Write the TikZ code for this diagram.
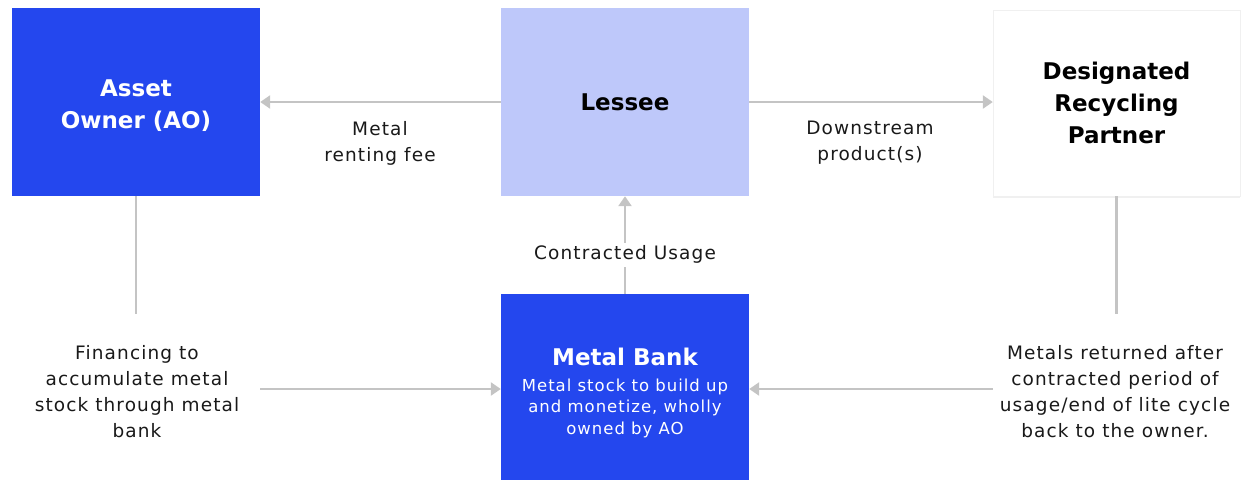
\documentclass[tikz,border=0pt]{standalone}
\usepackage{fontspec}
\setmainfont{DejaVu Sans}
\newfontfamily\notefont[LetterSpace=6]{DejaVu Sans}
\usetikzlibrary{positioning,arrows.meta,shadows}
\definecolor{bankblue}{RGB}{36,71,238}
\definecolor{lesseeblue}{RGB}{190,200,250}
\definecolor{flowgrey}{RGB}{196,196,196}

\tikzset{
  box/.style={rectangle, minimum width=248pt, minimum height=188pt, align=center,
    inner sep=0pt, font=\fontsize{23}{32}\selectfont\bfseries},
  bluebox/.style={box, fill=bankblue, text=white},
  flow/.style={draw=flowgrey, line width=2.5pt, -{Triangle[length=10pt,width=13pt]}},
  flowline/.style={draw=flowgrey, line width=2.5pt},
  note/.style={align=center, font=\notefont\fontsize{18.5}{26}\selectfont, text=black!90}
}
\newcommand{\banksub}{\notefont\fontsize{16.5}{22}\mdseries\selectfont}

\begin{document}
\begin{tikzpicture}[x=1pt,y=-1pt]
  \useasboundingbox (0,0) rectangle (1249,480);

  % Boxes
  \node[bluebox] (owner) at (136,102) {\\[-8pt]Asset\\Owner (AO)};
  \node[box, fill=lesseeblue] (lessee) at (625,102) {Lessee};
  \node[box, fill=white, minimum width=247pt, minimum height=186pt, draw=black!6,
    drop shadow={opacity=0.12, shadow xshift=0pt, shadow yshift=-2pt}] (partner) at (1116.5,103)
    {Designated\\Recycling\\Partner};
  \node[bluebox, minimum height=186pt] (bank) at (625,387)
    {\\[-2pt]Metal Bank\\[-6pt]\banksub Metal stock to build up\\[-11.5pt]\banksub and monetize, wholly\\[-9.5pt]\banksub owned by AO};

  % Labels
  \node[note] (fee) at (380,143) {Metal\\renting fee};
  \node[note] (product) at (870,143) {Downstream\\product(s)};
  \node[note] (finance) at (137,392) {Financing to\\accumulate metal\\stock through metal\\bank};
  \node[note] (returned) at (1115,392) {Metals returned after\\contracted period of\\usage/end of lite cycle\\back to the owner.};

  % Top row flows
  \draw[flow] (lessee) -- (owner);
  \draw[flow] (lessee) -- (partner.west |- lessee);

  % Contracted usage
  \draw[flow] (bank) -- node[pos=0.4, fill=white, note, inner sep=3pt] (usage) {Contracted Usage} (lessee);

  % Side flows into the metal bank
  \coordinate (ownerend) at ([yshift=-118pt]owner.south);
  \coordinate (partnerend) at ([yshift=-118pt]partner.south);
  \draw[flowline] (owner.south) -- (ownerend);
  \draw[flowline] (partner.south) -- (partnerend);
  \draw[flow] ([yshift=3pt]owner.east |- finance) -- ([yshift=3pt]bank.west |- finance);
  \draw[flow] ([yshift=3pt]partner.west |- returned) -- ([yshift=3pt]bank.east |- returned);
\end{tikzpicture}
\end{document}
